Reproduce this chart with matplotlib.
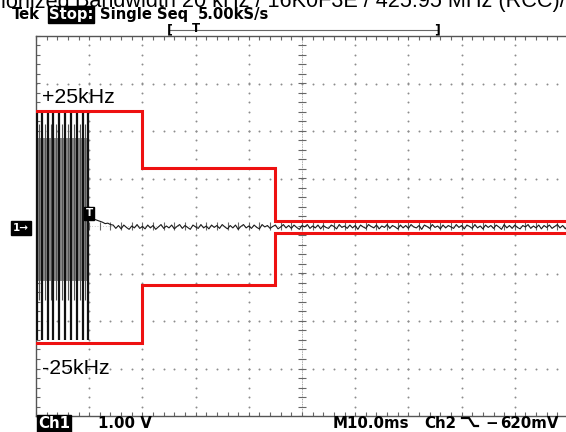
import numpy as np
import matplotlib
matplotlib.use("Agg")
import matplotlib.pyplot as plt
from matplotlib.lines import Line2D

# ---------------- data ----------------
# time axis: ms (10 ms/div), vertical: V (1.00 V/div)
mask_edges_ms = [0, 20, 45, 100]
mask_upper_v = [2.43, 1.22, 0.11]
mask_lower_v = [-2.47, -1.24, -0.14]
mask_labels = ["+25kHz", "-25kHz"]

burst_peaks_ms = [0.1, 1.15, 2.25, 3.25, 4.35, 5.45, 6.55, 7.7, 8.8, 9.8]
burst_high_v = 2.40
burst_low_v = -2.40
burst_fill_top_v = 1.85
burst_fill_bottom_v = -1.15

trace_start_ms = 10.0
trace_step_ms = 0.5
trace_v = [
    0.17, 0.16, 0.14, 0.12, 0.10, 0.08, 0.05, 0.06, 0.03, 0.02,
    -0.05, 0.01, -0.06, 0.02, -0.03, -0.07, 0.00, -0.04, 0.03, -0.05,
    -0.01, -0.06, 0.02, -0.04, 0.01, -0.07, -0.02, 0.03, -0.05, 0.00,
    -0.04, 0.02, -0.06, -0.01, 0.03, -0.05, 0.01, -0.03, -0.07, 0.02,
    -0.02, -0.05, 0.03, -0.04, 0.00, -0.06, 0.02, -0.03, 0.01, -0.05,
    0.03, -0.02, -0.06, 0.01, -0.04, 0.02, -0.07, -0.01, 0.03, -0.04,
    0.00, -0.05, 0.02, -0.03, -0.06, 0.03, -0.02, 0.01, -0.05, -0.01,
    0.02, -0.06, -0.02, 0.03, -0.04, 0.01, -0.05, 0.02, -0.03, -0.07,
    0.01, -0.02, 0.03, -0.05, 0.00, -0.04, 0.02, -0.06, 0.01, -0.03,
    -0.05, 0.02, -0.01, -0.06, 0.03, -0.03, 0.00, -0.05, 0.02, -0.04,
    0.01, -0.07, 0.02, -0.02, -0.05, 0.03, -0.01, -0.04, 0.02, -0.06,
    0.00, -0.03, 0.03, -0.05, 0.01, -0.02, -0.06, 0.02, -0.04, 0.01,
    -0.05, 0.03, -0.02, -0.04, 0.01, -0.07, 0.02, -0.01, -0.05, 0.03,
    -0.03, 0.00, -0.06, 0.02, -0.04, 0.01, -0.02, -0.05, 0.03, -0.03,
    0.01, -0.06, 0.02, -0.01, -0.05, 0.03, -0.04, 0.00, -0.06, 0.02,
    -0.03, 0.01, -0.05, 0.02, -0.02, -0.07, 0.03, -0.04, 0.01, -0.05,
    0.02, -0.03, -0.06, 0.01, -0.02, 0.03, -0.05, 0.00, -0.04, 0.02,
    -0.06, 0.01, -0.03, 0.02, -0.05, -0.01, 0.03, -0.04, 0.01, -0.06,
    0.02,
]

title_lead = "ionized "
title_rest = "Bandwidth 20 kHz / 16K0F3E / 425.95 MHz (RCC)/"
status_mode = "Single Seq"
status_rate = "5.00kS/s"
ch1_scale = "1.00 V"
timebase = "M10.0ms"
trig_src = "Ch2"
trig_level_sign = "\u2212"
trig_level = "620mV"

# ---------------- figure ----------------
W, H = 566, 432
fig = plt.figure(figsize=(W / 100, H / 100), dpi=100)
fig.patch.set_facecolor("white")

def fx(px):
    return px / W

def fy(py):
    return 1 - py / H

ax_l, ax_r, ax_t, ax_b = 36, 568, 36, 416
ax = fig.add_axes([fx(ax_l), fy(ax_b), (ax_r - ax_l) / W, (ax_b - ax_t) / H])
ax.set_xlim(0, 100)
ax.set_ylim(-4, 4)
ax.set_facecolor("white")

grat = "#8c8c8c"
for s in ax.spines.values():
    s.set_color("#555555")
    s.set_linewidth(1.0)

ax.set_xticks(np.arange(0, 100.01, 2))
ax.set_yticks(np.arange(-4, 4.01, 0.2))
ax.tick_params(axis="both", which="both", direction="in", length=3, width=0.8,
               color="#666666", labelbottom=False, labelleft=False,
               top=True, bottom=True, left=True, right=False)

# graticule dots
for k in range(1, 10):
    if k == 5:
        continue
    ys = np.arange(-4, 4.01, 0.2)
    ax.scatter(np.full_like(ys, k * 10.0), ys, s=2.0, color=grat, linewidths=0, zorder=1)
for j in range(-3, 4):
    if j == 0:
        continue
    xs = np.arange(0, 100.01, 2)
    ax.scatter(xs, np.full_like(xs, float(j)), s=2.0, color=grat, linewidths=0, zorder=1)

# center cross with ticks
ax.axvline(50, color="#888888", lw=0.6, ls=(0, (1, 1)), zorder=1)
ax.axhline(0, color="#999999", lw=0.5, ls=(0, (1, 3)), zorder=1)
cy = np.arange(-4, 4.01, 0.2)
ax.plot(np.full_like(cy, 50.0), cy, ls="none", marker="_", ms=6, mew=0.8, color="#666666", zorder=1)
cx = np.arange(0, 100.01, 2)
ax.plot(cx, np.zeros_like(cx), ls="none", marker="|", ms=6, mew=0.8, color="#666666", zorder=1)

# burst
ax.fill_between([burst_peaks_ms[0], burst_peaks_ms[-1] + 0.15],
                burst_fill_bottom_v, burst_fill_top_v, color="#8a8a8a", lw=0, zorder=2)
for i, p in enumerate(burst_peaks_ms):
    ax.vlines(p, burst_low_v, burst_high_v, color="#111111", lw=1.6, zorder=3)
    if i < len(burst_peaks_ms) - 1:
        mid = (p + burst_peaks_ms[i + 1]) / 2
        ax.vlines(mid, burst_fill_bottom_v - 0.4, burst_fill_top_v + 0.3,
                  color="#555555", lw=0.8, zorder=3)

# trace
tt = trace_start_ms + trace_step_ms * np.arange(len(trace_v))
ax.plot(tt, trace_v, color="#1a1a1a", lw=0.8, zorder=4)

# mask
ux, uy, lx, ly = [], [], [], []
for i in range(len(mask_upper_v)):
    ux += [mask_edges_ms[i], mask_edges_ms[i + 1]]
    uy += [mask_upper_v[i], mask_upper_v[i]]
    lx += [mask_edges_ms[i], mask_edges_ms[i + 1]]
    ly += [mask_lower_v[i], mask_lower_v[i]]
ax.plot(ux, uy, color="#ee1111", lw=2.2, zorder=5, solid_joinstyle="miter")
ax.plot(lx, ly, color="#ee1111", lw=2.2, zorder=5, solid_joinstyle="miter")

ax.text(1.1, 2.59, mask_labels[0], fontsize=15.3,
        family="Liberation Sans", va="baseline", ha="left", zorder=6)
ax.text(1.1, -3.12, mask_labels[1], fontsize=15.3,
        family="Liberation Sans", va="baseline", ha="left", zorder=6)

# trigger marker
ax.text(10.0, 0.27, "T", color="white", fontsize=7.5, fontweight="bold",
        ha="center", va="center", zorder=7,
        bbox=dict(boxstyle="square,pad=0.15", fc="black", ec="black"))

# ---------------- figure texts ----------------
# title (clipped by the top edge as in the screenshot) sized to span 76..566 px
renderer = fig.canvas.get_renderer()
probe = fig.text(0, 0, title_rest, fontsize=10, family="Liberation Sans")
w10 = probe.get_window_extent(renderer).width
probe.remove()
tsize = 10 * (566 - 76) / w10
fig.text(fx(566), fy(7.5), title_rest, fontsize=tsize, family="Liberation Sans",
         va="baseline", ha="right")
fig.text(fx(76), fy(7.5), title_lead, fontsize=tsize, family="Liberation Sans",
         va="baseline", ha="right")

tek_kw = dict(fontsize=10.6, fontweight="bold", family="DejaVu Sans", va="baseline")
fig.text(fx(12), fy(19), "Tek", **tek_kw)
fig.text(fx(49), fy(19), "Stop:", color="white",
         bbox=dict(boxstyle="square,pad=0.06", fc="black", ec="black"), **tek_kw)
fig.text(fx(100), fy(19), status_mode, **tek_kw)
fig.text(fx(198), fy(19), status_rate, **tek_kw)

# acquisition bracket
fig.add_artist(Line2D([fx(170), fx(437)], [fy(30), fy(30)], color="#666666", lw=0.8))
fig.text(fx(170), fy(30), "[", fontsize=9, fontweight="bold", ha="center", va="center")
fig.text(fx(437), fy(30), "]", fontsize=9, fontweight="bold", ha="center", va="center")
fig.text(fx(196), fy(29), "T", fontsize=8.5, fontweight="bold", ha="center", va="center")

# channel 1 ground marker
fig.text(fx(21), fy(228), "1\u2192", color="white", fontsize=7.5, fontweight="bold",
         ha="center", va="center",
         bbox=dict(boxstyle="square,pad=0.15", fc="black", ec="black"))

# bottom status line
bot_kw = dict(fontsize=10.8, fontweight="bold", family="DejaVu Sans", va="baseline")
fig.text(fx(38), fy(428), "Ch1", color="white",
         bbox=dict(boxstyle="square,pad=0.06", fc="black", ec="black"), **bot_kw)
fig.text(fx(98), fy(428), ch1_scale, **bot_kw)
fig.text(fx(333), fy(428), timebase, **bot_kw)
fig.text(fx(424), fy(428), trig_src, **bot_kw)
fig.add_artist(Line2D([fx(462), fx(469), fx(474), fx(478)],
                      [fy(418), fy(418), fy(426), fy(426)], color="black", lw=1.6))
fig.text(fx(485), fy(428), trig_level_sign, **bot_kw)
fig.text(fx(500), fy(428), trig_level, **bot_kw)

fig.savefig("out.png", dpi=100, facecolor="white")
